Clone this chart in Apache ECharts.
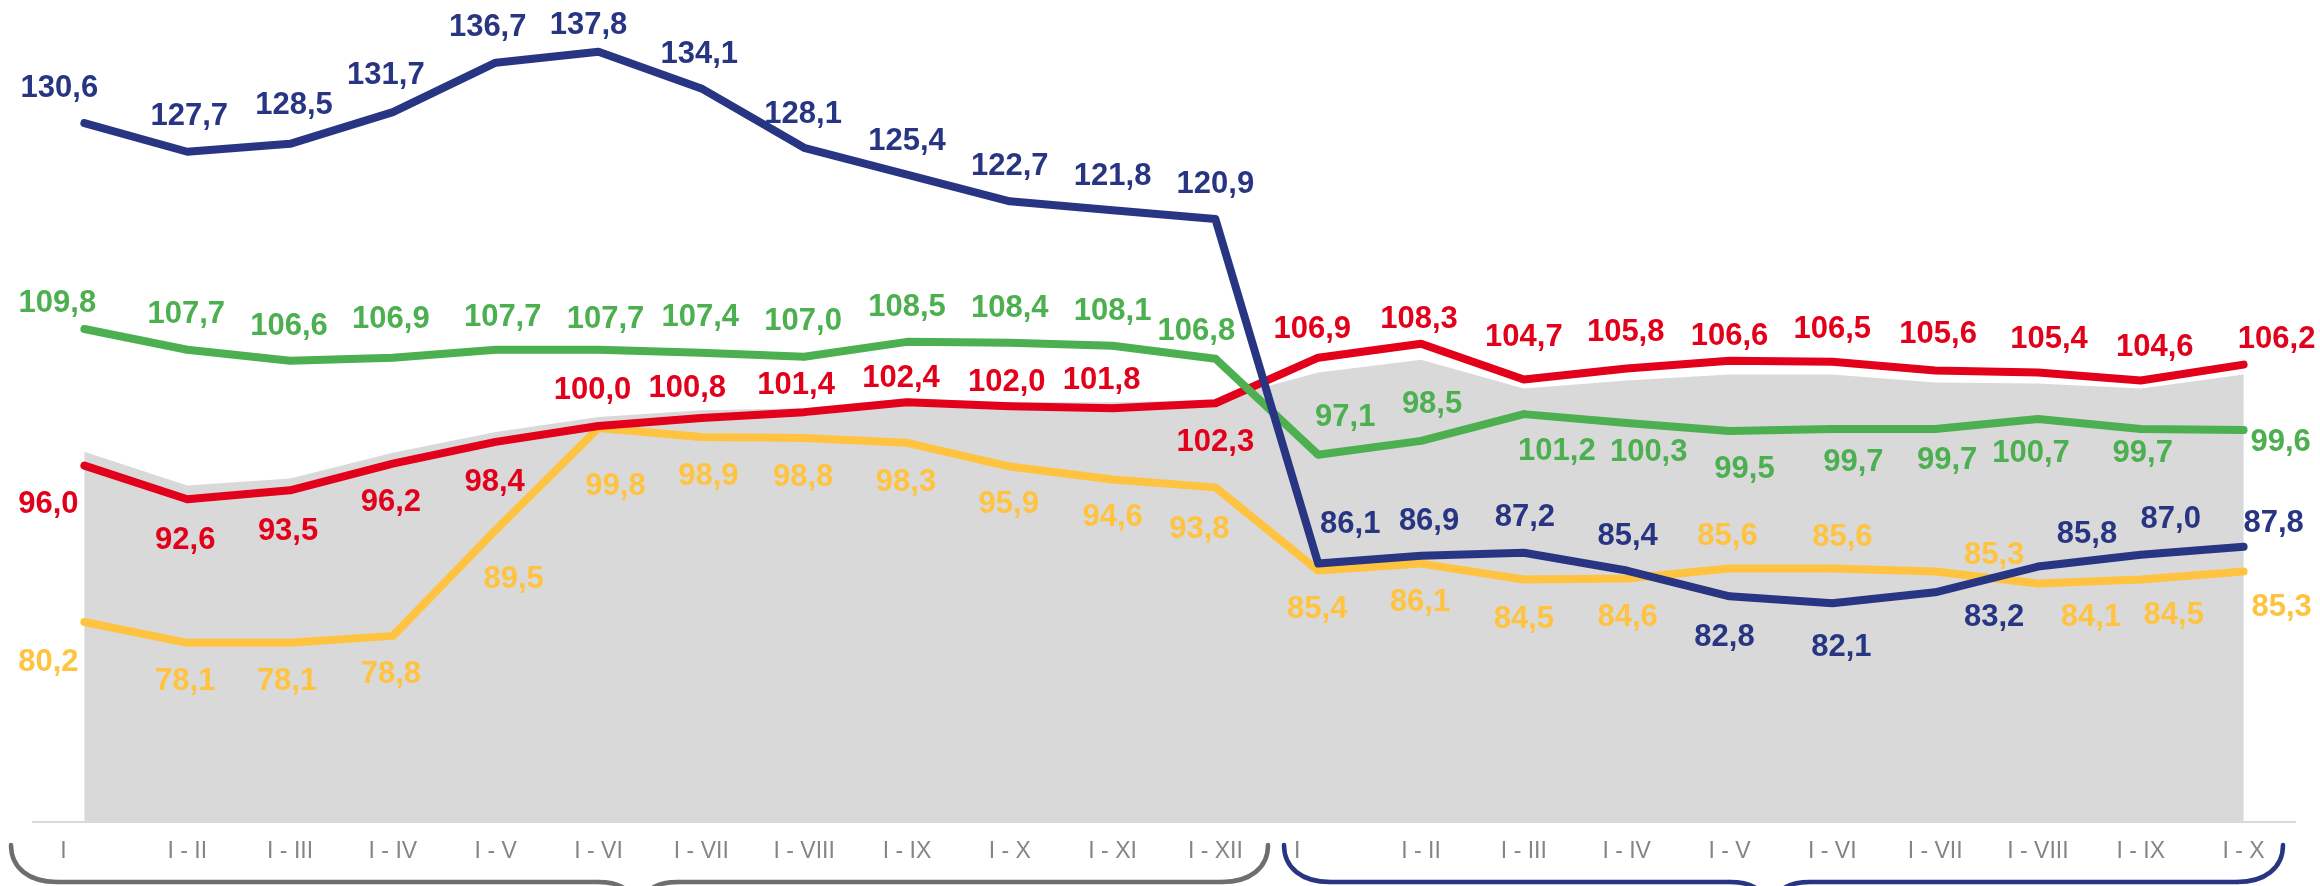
<!DOCTYPE html>
<html>
<head>
<meta charset="utf-8">
<style>
  html, body { margin: 0; padding: 0; background: #fff; }
  #main { width: 2320px; height: 886px; }
</style>
<script src="https://cdn.jsdelivr.net/npm/echarts@6/dist/echarts.min.js"></script>
</head>
<body>
<div id="main"></div>
<script>
// categories: two periods, cumulative months
var categories = ["I", "I - II", "I - III", "I - IV", "I - V", "I - VI", "I - VII", "I - VIII", "I - IX", "I - X", "I - XI", "I - XII",
  "I", "I - II", "I - III", "I - IV", "I - V", "I - VI", "I - VII", "I - VIII", "I - IX", "I - X"];

var blueValues = [130.6, 127.7, 128.5, 131.7, 136.7, 137.8, 134.1, 128.1, 125.4, 122.7, 121.8, 120.9,
  86.1, 86.9, 87.2, 85.4, 82.8, 82.1, 83.2, 85.8, 87.0, 87.8];
var greenValues = [109.8, 107.7, 106.6, 106.9, 107.7, 107.7, 107.4, 107.0, 108.5, 108.4, 108.1, 106.8,
  97.1, 98.5, 101.2, 100.3, 99.5, 99.7, 99.7, 100.7, 99.7, 99.6];
var redValues = [96.0, 92.6, 93.5, 96.2, 98.4, 100.0, 100.8, 101.4, 102.4, 102.0, 101.8, 102.3,
  106.9, 108.3, 104.7, 105.8, 106.6, 106.5, 105.6, 105.4, 104.6, 106.2];
var yellowValues = [80.2, 78.1, 78.1, 78.8, 89.5, 99.8, 98.9, 98.8, 98.3, 95.9, 94.6, 93.8,
  85.4, 86.1, 84.5, 84.6, 85.6, 85.6, 85.3, 84.1, 84.5, 85.3];
// grey background area (no label)
var greyValues = [97.4, 94.0, 94.7, 97.3, 99.4, 100.9, 101.6, 101.8, 102.8, 102.4, 102.4, 102.6,
  105.4, 106.7, 103.8, 104.6, 105.2, 105.2, 104.4, 104.3, 103.8, 105.2];

// label placement (offset of label centre from the point, px)
var blueOff = [[-25,-35],[2,-35],[4,-38],[-7,-37],[-8,-35],[-10,-26],[-2,-34],[-1,-33],[0,-33],[0,-35],[0,-34],[0,-35],
  [32,-39],[8,-34],[1,-35],[1,-34],[-5,41],[9,44],[59,25],[49,-32],[30,-35],[30,-23]];
var greenOff = [[-27,-26],[-1,-35],[-1,-34],[-2,-38],[7,-32],[7,-30],[-1,-35],[-1,-35],[0,-34],[0,-34],[0,-34],[-19,-27],
  [27,-37],[11,-36],[33,37],[22,29],[15,39],[21,33],[12,31],[-7,34],[2,24],[37,12]];
var redOff = [[-36,39],[-2,41],[-2,41],[-2,39],[-1,41],[-6,-36],[-14,-30],[-8,-27],[-6,-24],[-3,-24],[-11,-28],[0,39],
  [-6,-28],[-2,-24],[0,-42],[-1,-36],[0,-24],[0,-32],[3,-36],[11,-33],[14,-33],[33,-25]];
var yellowOff = [[-36,40],[-2,39],[-3,39],[-2,39],[18,50],[17,58],[7,40],[-1,40],[-1,40],[-1,38],[0,38],[-16,42],
  [-1,39],[-1,39],[0,40],[1,39],[-2,-32],[10,-31],[59,-16],[53,34],[33,36],[38,36]];

var myChart = echarts.init(document.getElementById("main"));

function fmt(p) {
  return p.value.toFixed(1).replace(".", ",");
}

function lineSeries(name, values, offsets, color, z) {
  return {
    name: name,
    type: "line",
    z: z,
    data: values.map(function (v, i) {
      return { value: v, label: { offset: offsets[i] } };
    }),
    symbol: "circle",
    symbolSize: 7,
    itemStyle: { color: color },
    lineStyle: { color: color, width: 8, cap: "round", join: "round" },
    label: {
      show: true,
      position: "inside",
      align: "center",
      verticalAlign: "middle",
      color: color,
      fontFamily: "Liberation Sans, Arial, sans-serif",
      fontWeight: "bold",
      fontSize: 31,
      formatter: fmt,
    },
    emphasis: { disabled: true },
    animation: false,
  };
}

// brace under the axis, cusp below the picture edge
function brace(xa, xb, cx, color) {
  var yt = 845, yb = 882, r = 46;
  var st = { stroke: color, lineWidth: 4.5, fill: null, lineCap: "round" };
  function bz(a, b, c, d, e, f, g, h) {
    return { type: "bezierCurve", shape: { x1: a, y1: b, cpx1: c, cpy1: d, cpx2: e, cpy2: f, x2: g, y2: h }, style: st, silent: true };
  }
  function ln(a, b, c, d) {
    return { type: "line", shape: { x1: a, y1: b, x2: c, y2: d }, style: st, silent: true };
  }
  return [
    bz(xa, yt, xa, yb - 14, xa + 18, yb, xa + r, yb),
    ln(xa + r, yb, cx - 40, yb),
    bz(cx - 40, yb, cx - 20, yb, cx - 8, yb + 6, cx - 4, yb + 22),
    bz(cx + 4, yb + 22, cx + 8, yb + 6, cx + 20, yb, cx + 40, yb),
    ln(cx + 40, yb, xb - r, yb),
    bz(xb - r, yb, xb - 18, yb, xb, yb - 14, xb, yt),
  ];
}

myChart.setOption({
  backgroundColor: "#fff",
  animation: false,
  grid: { left: 33, right: 25, top: 30, bottom: 64 },
  xAxis: {
    type: "category",
    data: categories,
    boundaryGap: true,
    axisLine: { lineStyle: { color: "#d9d9d9", width: 2 } },
    axisTick: { show: false },
    axisLabel: {
      margin: 18,
      color: "#858585",
      fontSize: 23,
      fontFamily: "Liberation Sans Narrow, Arial Narrow, sans-serif",
      interval: 0,
      formatter: function (val, idx) {
        return idx === 0 || idx === 12 ? "{s|" + val + "}" : val;
      },
      rich: {
        s: {
          padding: [0, 42, 0, 0],
          color: "#858585",
          fontSize: 23,
          fontFamily: "Liberation Sans Narrow, Arial Narrow, sans-serif",
        },
      },
    },
    splitLine: { show: false },
  },
  yAxis: {
    type: "value",
    min: 60,
    max: 140,
    show: false,
    splitLine: { show: false },
  },
  graphic: brace(11, 1268, 638, "#6e6e6e").concat(brace(1284, 2283, 1770, "#283583")),
  series: [
    {
      name: "grey",
      type: "line",
      z: 1,
      data: greyValues,
      symbol: "none",
      lineStyle: { width: 0 },
      areaStyle: { color: "#d9d9d9", opacity: 1, origin: "start" },
      emphasis: { disabled: true },
      silent: true,
    },
    lineSeries("yellow", yellowValues, yellowOff, "#ffc340", 2),
    lineSeries("red", redValues, redOff, "#e2001a", 3),
    lineSeries("green", greenValues, greenOff, "#4caf50", 4),
    lineSeries("blue", blueValues, blueOff, "#283583", 5),
  ],
});
</script>
</body>
</html>
